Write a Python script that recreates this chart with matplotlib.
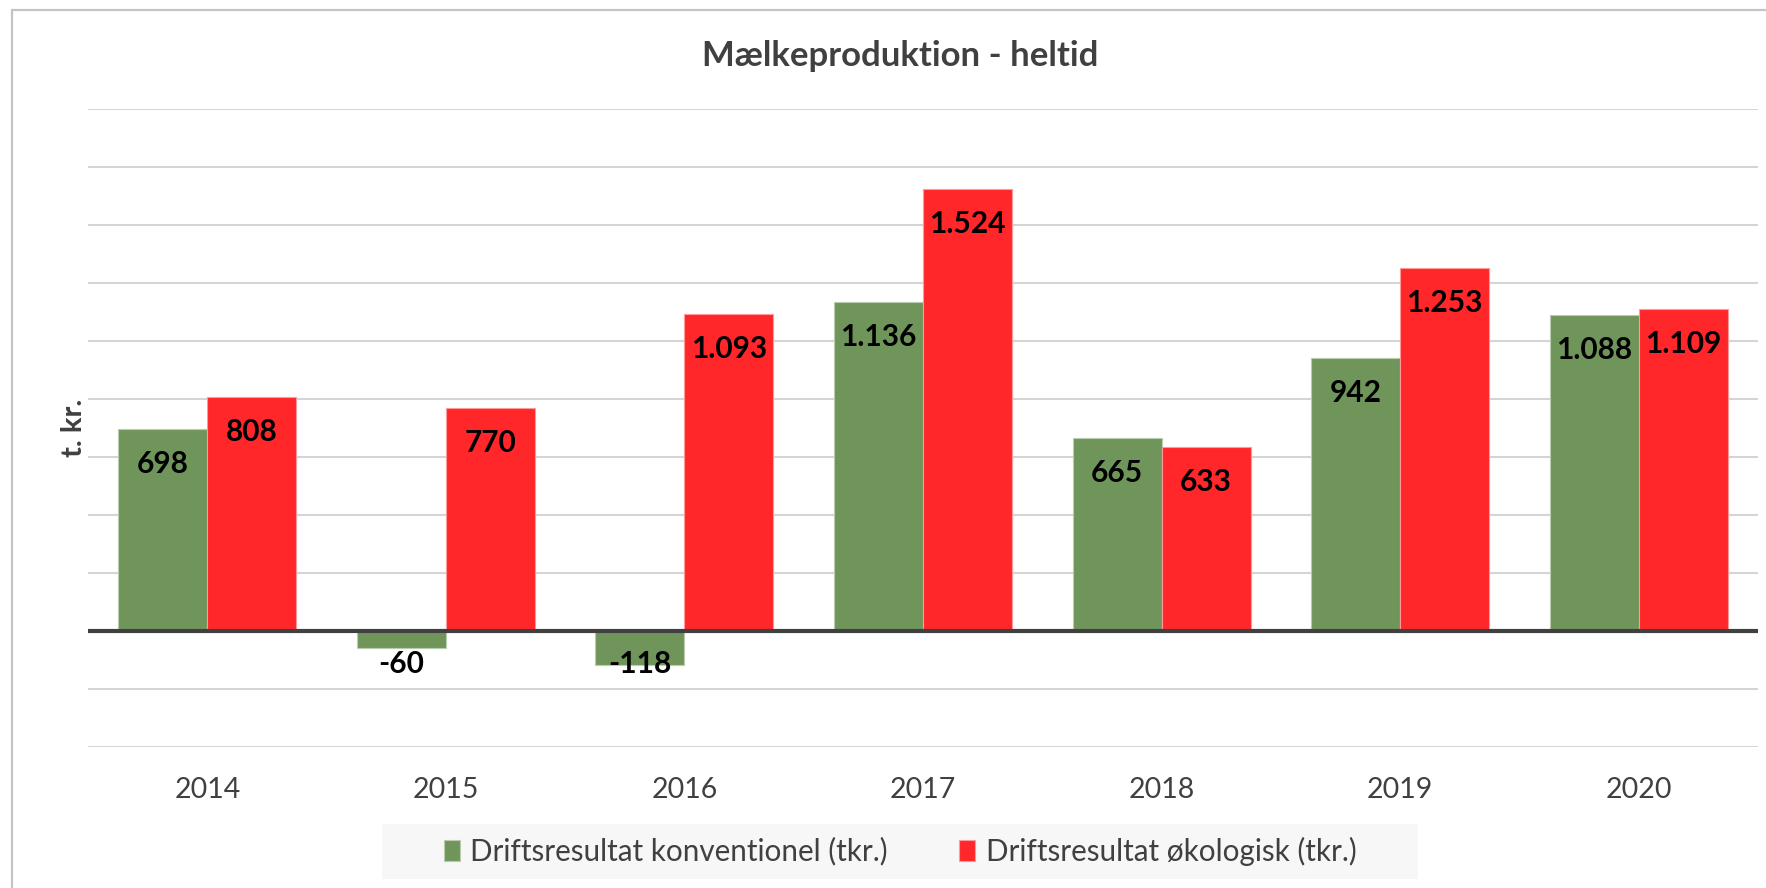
import matplotlib
matplotlib.use("Agg")
import matplotlib.pyplot as plt
from matplotlib.patches import Rectangle
import numpy as np

years = ["2014", "2015", "2016", "2017", "2018", "2019", "2020"]
konventionel = [698, -60, -118, 1136, 665, 942, 1088]
okologisk = [808, 770, 1093, 1524, 633, 1253, 1109]
label_konv = ["698", "-60", "-118", "1.136", "665", "942", "1.088"]
label_oko = ["808", "770", "1.093", "1.524", "633", "1.253", "1.109"]
series_names = ["Driftsresultat konventionel (tkr.)", "Driftsresultat økologisk (tkr.)"]

plt.rcParams['font.family'] = ['Lato', 'DejaVu Sans']

W, H = 1766, 888
fig = plt.figure(figsize=(W / 100, H / 100), dpi=100)
fig.patch.set_facecolor('white')

# outer chart frame (cut at right and bottom)
fig.add_artist(Rectangle((12 / W, -0.1), 1.2, (H - 10) / H + 0.1, transform=fig.transFigure,
                         fill=False, edgecolor='#c4c4c4', linewidth=1.6))
# legend background
fig.add_artist(Rectangle((382 / W, 1 - 879 / H), (1418 - 382) / W, 55 / H,
                         transform=fig.transFigure, facecolor='#f7f7f7', edgecolor='none'))

ax = fig.add_axes([88 / W, (H - 747) / H, 1670 / W, 638 / H])
x = np.arange(len(years))
bw = 0.373
green = '#70955a'
red = '#ff2729'

b1 = ax.bar(x - bw / 2, konventionel, bw, color=green, edgecolor='#b9cdae', linewidth=0.8, zorder=3)
b2 = ax.bar(x + bw / 2, okologisk, bw, color=red, edgecolor='#ff9a9a', linewidth=0.8, zorder=3)

ax.set_xlim(-0.5, len(years) - 0.5)
ax.set_ylim(-400, 1800)
ax.set_yticks(np.arange(-400, 1801, 200))
ax.yaxis.grid(True, color='#d5d5d5', linewidth=1.5, zorder=0)
ax.set_axisbelow(True)
ax.tick_params(axis='y', left=False, labelleft=False)
ax.tick_params(axis='x', bottom=False, labelsize=20.5, labelcolor='#404040', pad=18)
ax.set_xticks(x)
ax.set_xticklabels(years)
for s in ax.spines.values():
    s.set_visible(False)
ax.axhline(0, color='#404040', linewidth=3, zorder=4)

fig.text(74 / W, 1 - 428 / H, 't. kr.', rotation=90, ha='center', va='center',
         fontsize=21, fontweight='bold', color='#404040')

def add_labels(bars, vals, labels):
    for rect, v, lab in zip(bars, vals, labels):
        cx = rect.get_x() + rect.get_width() / 2
        if v >= 0:
            ax.annotate(lab, (cx, v), xytext=(0, -35), textcoords='offset pixels',
                        ha='center', va='center', fontsize=21.5, fontweight='bold',
                        color='black', zorder=5)
        else:
            ax.annotate(lab, (cx, 0), xytext=(0, -33), textcoords='offset pixels',
                        ha='center', va='center', fontsize=21.5, fontweight='bold',
                        color='black', zorder=5)

add_labels(b1, konventionel, label_konv)
add_labels(b2, okologisk, label_oko)

fig.text(900 / W, 1 - 56 / H, 'Mælkeproduktion - heltid', ha='center', va='center',
         fontsize=25, fontweight='bold', color='#404040')

leg = fig.legend([b1, b2], series_names, loc='center', bbox_to_anchor=(900 / W, 1 - 851 / H),
                 ncol=2, frameon=False,
                 fontsize=21.3, handlelength=0.55, handleheight=0.7, handletextpad=0.35,
                 columnspacing=2.4, labelcolor='#404040')

fig.savefig('out.png', dpi=100, facecolor='white')
